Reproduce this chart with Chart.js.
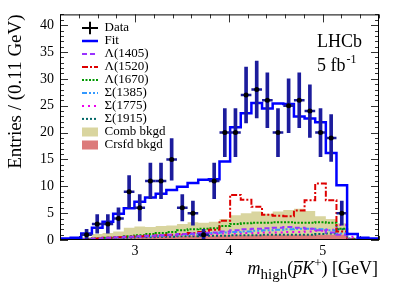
<!DOCTYPE html>
<html>
<head>
<meta charset="utf-8">
<script src="https://cdn.jsdelivr.net/npm/chart.js@4.4.1/dist/chart.umd.min.js"></script>
<style>
  body { margin: 0; background: #fff; }
</style>
</head>
<body>
<canvas id="massCanvas" width="399" height="286"></canvas>
<script>
// binning of m_high(pbar K+)
const xMin = 2.2;
const xMax = 5.6;

// data counts per bin (null = empty bin, not drawn)
const dataCounts = [null, null, 1, 3, 3, 4, 9, 6, 11, 11, 15, 6, 5, 1, 11, 20, 20, 27, 28, 26, 20, 25, 26, 24, 20, 19, 5, null, null, null];

// fit and components per bin
const fitValues   = [0.3, 0.4, 1.2, 2.3, 3.4, 4.9, 5.9, 7.1, 7.9, 8.6, 9.3, 9.9, 10.6, 11.2, 11.3, 14.6, 21.0, 23.6, 25.5, 24.5, 25.4, 25.3, 23.0, 22.6, 21.9, 16.2, 10.2, 1.1, 0.4, 0.3];
const lambda1405  = [0.05, 0.1, 0.2, 0.3, 0.4, 0.5, 0.6, 0.7, 0.8, 0.9, 1.0, 1.1, 1.2, 1.3, 1.4, 1.6, 1.8, 2.0, 2.1, 2.2, 2.3, 2.4, 2.3, 2.1, 1.8, 1.4, 1.0, 0.1, 0, 0];
const lambda1520  = [0.05, 0.1, 0.2, 0.3, 0.4, 0.5, 0.6, 0.7, 0.8, 0.9, 1.0, 1.1, 1.3, 1.5, 1.9, 3.6, 8.4, 7.5, 6.2, 4.7, 4.5, 4.4, 5.5, 7.4, 10.5, 7.4, 1.6, 0.1, 0, 0];
const lambda1670  = [0.05, 0.1, 0.2, 0.3, 0.4, 0.5, 0.7, 0.9, 1.1, 1.3, 1.5, 1.8, 2.0, 2.1, 2.2, 2.6, 3.0, 3.1, 3.2, 3.2, 3.3, 3.3, 3.2, 3.2, 3.3, 3.2, 2.1, 0.2, 0, 0];
const sigma1385   = [0.05, 0.1, 0.15, 0.2, 0.3, 0.4, 0.5, 0.6, 0.7, 0.8, 0.9, 1.0, 1.1, 1.2, 1.3, 1.4, 1.5, 1.6, 1.7, 1.8, 1.9, 2.0, 2.1, 2.1, 2.0, 1.8, 1.2, 0.1, 0, 0];
const sigma1775   = [0.05, 0.1, 0.15, 0.2, 0.3, 0.4, 0.5, 0.6, 0.7, 0.8, 0.9, 1.0, 1.0, 1.1, 1.1, 1.2, 1.2, 1.3, 1.3, 1.4, 1.4, 1.5, 1.5, 1.6, 1.7, 1.9, 2.8, 0.6, 0.1, 0];
const sigma1915   = [0.05, 0.1, 0.15, 0.2, 0.25, 0.3, 0.4, 0.5, 0.5, 0.6, 0.6, 0.7, 0.7, 0.8, 0.8, 0.8, 0.9, 0.9, 0.9, 1.0, 1.0, 1.0, 1.0, 1.0, 1.1, 1.2, 2.0, 0.3, 0.1, 0];
const combBkgd    = [0.1, 0.2, 0.5, 1.1, 1.3, 1.6, 2.3, 2.5, 2.4, 2.6, 2.7, 3.0, 3.3, 3.2, 3.4, 3.9, 4.6, 5.0, 5.3, 4.9, 5.3, 5.6, 5.8, 5.4, 4.4, 3.9, 3.1, 0.4, 0.1, 0.1];
const crsfdBkgd   = [0.05, 0.1, 0.2, 0.3, 0.4, 0.5, 0.5, 0.6, 0.6, 0.7, 0.7, 0.7, 0.8, 0.8, 0.8, 0.9, 0.9, 0.9, 1.0, 1.0, 1.0, 1.0, 1.0, 1.0, 1.0, 1.0, 1.0, 0.2, 0.05, 0];

const xTickValues = [3, 4, 5];
const yTickValues = [0, 5, 10, 15, 20, 25, 30, 35, 40];

const nBins = fitValues.length;
const binWidth = (xMax - xMin) / nBins;

// histogram as stepped line: one point per left bin edge + closing point
function histPoints(values) {
  const pts = values.map((v, i) => ({x: xMin + i * binWidth, y: v}));
  pts.push({x: xMax, y: values[values.length - 1]});
  return pts;
}

const dataPoints = [];
const dataErrors = [];
dataCounts.forEach((n, i) => {
  if (n === null) return;
  const c = xMin + (i + 0.5) * binWidth;
  dataPoints.push({x: c, y: n});
  dataErrors.push({x: c, y: [n - Math.sqrt(n), n + Math.sqrt(n)]});
});

const serif = "'Liberation Serif', 'Times New Roman', serif";
Chart.defaults.font.family = serif;
Chart.defaults.color = '#000';

function component(label, values, color, dash) {
  return {
    type: 'line', label: label, data: histPoints(values), stepped: true,
    borderColor: color, borderWidth: 2, borderDash: dash, pointRadius: 0,
    fill: false, order: 4,
    key: {style: 'line', stroke: color, width: 2}
  };
}

const frameTicks = {
  id: 'frameTicks',
  beforeDatasetsDraw(chart) {
    const {ctx, chartArea: a, scales: {x, y}} = chart;
    ctx.save();
    ctx.strokeStyle = '#333';
    ctx.lineWidth = 1;
    ctx.beginPath();
    for (let k = 0; k <= 42; k++) {
      const py = Math.round(y.getPixelForValue(k)) + 0.5;
      const len = k % 5 === 0 ? 8 : 4;
      ctx.moveTo(a.left, py); ctx.lineTo(a.left + len, py);
      ctx.moveTo(a.right, py); ctx.lineTo(a.right - len, py);
    }
    for (let k = 11; k <= 28; k++) {
      const px = Math.round(x.getPixelForValue(k / 5)) + 0.5;
      const len = k % 5 === 0 ? 8 : 4;
      ctx.moveTo(px, a.bottom); ctx.lineTo(px, a.bottom - len);
      ctx.moveTo(px, a.top); ctx.lineTo(px, a.top + len);
    }
    ctx.stroke();
    ctx.restore();
  },
  afterDatasetsDraw(chart) {
    const {ctx, chartArea: a} = chart;
    ctx.save();
    ctx.strokeStyle = '#000';
    ctx.lineWidth = 1;
    ctx.strokeRect(a.left + 0.5, a.top + 0.5, a.right - a.left - 1, a.bottom - a.top - 1);
    ctx.restore();
  }
};

// move the in-frame legend to its spot in the upper left
const legendShift = {
  id: 'legendShift',
  afterLayout(chart) {
    const lg = chart.legend;
    lg.left = chart.chartArea.left + 22;
    lg.top = chart.chartArea.top + 7;
    lg.right = lg.left + lg.width;
    lg.bottom = lg.top + lg.height;
  }
};

const annotate = {
  id: 'annotate',
  afterDraw(chart) {
    const ctx = chart.ctx;
    const a = chart.chartArea;
    ctx.save();
    ctx.fillStyle = '#000';
    ctx.textAlign = 'left';
    ctx.textBaseline = 'alphabetic';

    ctx.font = '18px ' + serif;
    ctx.fillText('LHCb', a.right - 62, 47);
    ctx.fillText('5 fb', a.right - 62, 71);
    const wfb = ctx.measureText('5 fb').width;
    ctx.font = '12px ' + serif;
    ctx.fillText('-1', a.right - 62 + wfb + 1, 63);

    // x axis title: m_high(pbar K+) [GeV]
    const base = 274;
    const parts = [
      {text: 'm', font: 'italic 18px ' + serif, dy: 0},
      {text: 'high', font: '15px ' + serif, dy: 5},
      {text: '(', font: '18px ' + serif, dy: 0},
      {text: 'p', font: 'italic 18px ' + serif, dy: 0, bar: true},
      {text: 'K', font: 'italic 18px ' + serif, dy: 0},
      {text: '+', font: '13px ' + serif, dy: -7},
      {text: ') [GeV]', font: '18px ' + serif, dy: 0}
    ];
    let total = 0;
    parts.forEach(p => { ctx.font = p.font; p.w = ctx.measureText(p.text).width; total += p.w; });
    let px = a.right - 1 - total;
    parts.forEach(p => {
      ctx.font = p.font;
      ctx.fillText(p.text, px, base + p.dy);
      if (p.bar) ctx.fillRect(px + 1, base - 13, p.w, 1.2);
      px += p.w;
    });
    ctx.restore();
  }
};

new Chart(
  document.getElementById('massCanvas'),
  {
    type: 'line',
    data: {
      datasets: [
        {
          type: 'line', label: 'Data', data: dataPoints, showLine: false,
          pointStyle: 'circle', pointRadius: 2.5, pointBackgroundColor: '#000',
          pointBorderWidth: 0, order: 0,
          key: {style: 'cross', stroke: '#000', width: 2}
        },
        {
          type: 'line', label: 'Fit', data: histPoints(fitValues), stepped: true,
          borderColor: '#0000ff', borderWidth: 2.5, pointRadius: 0, fill: false, order: 3,
          key: {style: 'line', stroke: '#0000ff', width: 2.5}
        },
        component('Λ(1405)', lambda1405, '#9933ff', [5, 3]),
        component('Λ(1520)', lambda1520, '#dd0000', [6, 2, 2, 2]),
        component('Λ(1670)', lambda1670, '#009900', [2, 1.5]),
        component('Σ(1385)', sigma1385, '#3399ff', [5, 2, 2, 2, 2, 2]),
        component('Σ(1775)', sigma1775, '#ee00ee', [2, 4]),
        component('Σ(1915)', sigma1915, '#006666', [2, 2]),
        {
          type: 'line', label: 'Comb bkgd', data: histPoints(combBkgd), stepped: true,
          borderWidth: 0, pointRadius: 0, fill: 'origin', backgroundColor: '#d9d59f', order: 8,
          key: {style: 'rect', fill: '#d9d59f'}
        },
        {
          type: 'line', label: 'Crsfd bkgd', data: histPoints(crsfdBkgd), stepped: true,
          borderWidth: 0, pointRadius: 0, fill: 'origin', backgroundColor: '#dc7b7b', order: 7,
          key: {style: 'rect', fill: '#dc7b7b'}
        },
        // data error bars
        {
          type: 'bar', data: dataErrors, backgroundColor: '#1c1c9c',
          barThickness: 3, grouped: false, borderWidth: 0, order: 1
        },
        {
          type: 'line', data: dataPoints, showLine: false, pointStyle: 'line',
          pointRadius: ctx => {
            const xs = ctx.chart.scales.x;
            return (xs.getPixelForValue(xMin + binWidth) - xs.getPixelForValue(xMin)) / 2;
          },
          pointBorderColor: '#1c1c9c', pointBorderWidth: 2.5, order: 2
        }
      ]
    },
    options: {
      responsive: false,
      devicePixelRatio: 1,
      animation: false,
      layout: { padding: { left: 0, right: 20, top: 14, bottom: 0 } },
      scales: {
        x: {
          type: 'linear', min: xMin, max: xMax, offset: false,
          grid: { display: false, drawTicks: false },
          border: { display: false },
          afterBuildTicks: scale => { scale.ticks = xTickValues.map(v => ({value: v})); },
          afterFit: scale => { scale.height = 46; },
          ticks: { padding: 3, font: { size: 14 }, color: '#000' }
        },
        y: {
          min: 0, max: 42,
          grid: { display: false, drawTicks: false },
          border: { display: false },
          afterBuildTicks: scale => { scale.ticks = yTickValues.map(v => ({value: v})); },
          afterFit: scale => { scale.width = 60; },
          ticks: { padding: 6, font: { size: 14 }, color: '#000' },
          title: {
            display: true, text: 'Entries / (0.11 GeV)', align: 'end',
            font: { size: 19 }, color: '#000', padding: { top: 5, bottom: 0 }
          }
        }
      },
      plugins: {
        tooltip: { enabled: false },
        legend: {
          position: 'chartArea',
          align: 'start',
          labels: {
            usePointStyle: true,
            pointStyleWidth: 16,
            boxHeight: 9,
            padding: 0,
            color: '#000',
            font: { size: 13 },
            generateLabels: chart => chart.data.datasets.map((ds, i) => ds.key ? {
              text: ds.label,
              datasetIndex: i,
              hidden: false,
              pointStyle: ds.key.style,
              fillStyle: ds.key.fill || 'rgba(0,0,0,0)',
              strokeStyle: ds.key.stroke || 'rgba(0,0,0,0)',
              lineWidth: ds.key.width || 0,
              lineDash: ds.borderDash || [],
              fontColor: '#000'
            } : null).filter(Boolean)
          }
        }
      }
    },
    plugins: [frameTicks, legendShift, annotate]
  }
);
</script>
</body>
</html>
